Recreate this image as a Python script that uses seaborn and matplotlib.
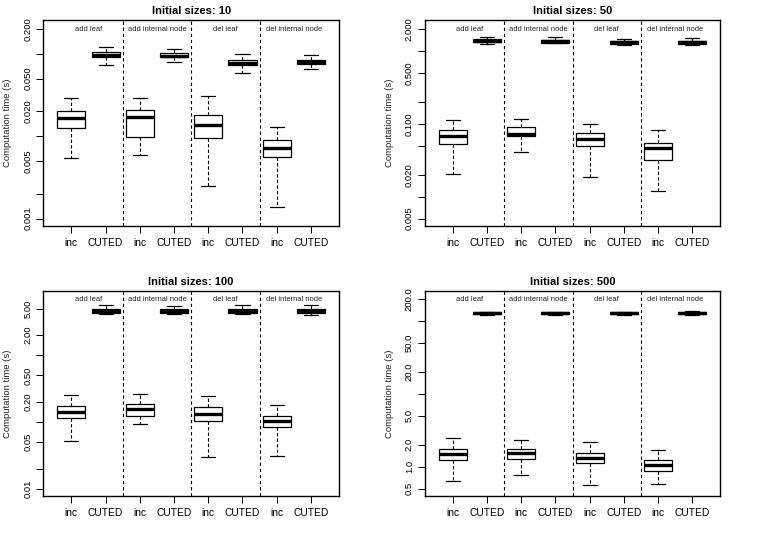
import numpy as np
import pandas as pd
import matplotlib
matplotlib.use("Agg")
import matplotlib.pyplot as plt
from matplotlib.ticker import FixedLocator, NullLocator
import seaborn as sns

# ---------------- data ----------------
sizes = [10, 50, 100, 500]
operations = ["add leaf", "add internal node", "del leaf", "del internal node"]
methods = ["inc", "CUTED"]

# five-number summaries (min, Q1, median, Q3, max) per box, order:
# add leaf inc, add leaf CUTED, add int inc, add int CUTED, del leaf inc, del leaf CUTED, del int inc, del int CUTED
times_10 = [
    [0.0054, 0.0126, 0.0166, 0.0201, 0.0291],
    [0.0731, 0.0906, 0.0968, 0.1042, 0.1200],
    [0.0060, 0.0097, 0.0173, 0.0206, 0.0291],
    [0.0796, 0.0906, 0.0950, 0.1014, 0.1133],
    [0.0025, 0.0095, 0.0136, 0.0183, 0.0305],
    [0.0580, 0.0725, 0.0781, 0.0834, 0.0986],
    [0.0014, 0.0056, 0.0071, 0.0091, 0.0129],
    [0.0648, 0.0745, 0.0796, 0.0834, 0.0959],
]
times_50 = [
    [0.0203, 0.0524, 0.0689, 0.0815, 0.1117],
    [1.234, 1.327, 1.383, 1.443, 1.538],
    [0.0406, 0.0681, 0.0733, 0.0896, 0.1178],
    [1.270, 1.300, 1.368, 1.428, 1.538],
    [0.0187, 0.0502, 0.0614, 0.0742, 0.0991],
    [1.195, 1.259, 1.327, 1.383, 1.459],
    [0.0121, 0.0316, 0.0471, 0.0541, 0.0815],
    [1.195, 1.259, 1.312, 1.368, 1.489],
]
times_100 = [
    [0.0525, 0.1161, 0.1429, 0.1738, 0.251],
    [4.21, 4.35, 4.66, 4.94, 5.61],
    [0.0922, 0.1244, 0.155, 0.184, 0.266],
    [4.21, 4.35, 4.66, 4.94, 5.42],
    [0.0302, 0.1035, 0.130, 0.166, 0.248],
    [4.11, 4.31, 4.56, 4.89, 5.61],
    [0.0313, 0.0832, 0.1035, 0.1244, 0.178],
    [4.02, 4.26, 4.56, 5.00, 5.74],
]
times_500 = [
    [0.631, 1.22, 1.51, 1.73, 2.45],
    [121.9, 124.5, 128.5, 131.0, 134.0],
    [0.778, 1.29, 1.53, 1.73, 2.35],
    [122.5, 125.5, 128.5, 131.0, 134.0],
    [0.562, 1.11, 1.30, 1.545, 2.16],
    [121.0, 124.5, 128.5, 131.0, 134.0],
    [0.574, 0.875, 1.07, 1.25, 1.70],
    [121.9, 125.9, 128.5, 132.7, 138.3],
]
all_times = [times_10, times_50, times_100, times_500]

ticks_10 = [0.2, 0.1, 0.05, 0.02, 0.01, 0.005, 0.002, 0.001]
labels_10 = ["0.200", "", "0.050", "0.020", "", "0.005", "", "0.001"]
ticks_50 = [2, 1, 0.5, 0.2, 0.1, 0.05, 0.02, 0.01, 0.005]
labels_50 = ["2.000", "", "0.500", "", "0.100", "", "0.020", "", "0.005"]
ticks_100 = [5, 2, 1, 0.5, 0.2, 0.1, 0.05, 0.02, 0.01]
labels_100 = ["5.00", "2.00", "", "0.50", "0.20", "", "0.05", "", "0.01"]
ticks_500 = [200, 100, 50, 20, 10, 5, 2, 1, 0.5]
labels_500 = ["200.0", "", "50.0", "20.0", "", "5.0", "2.0", "1.0", "0.5"]
all_ticks = [ticks_10, ticks_50, ticks_100, ticks_500]
all_labels = [labels_10, labels_50, labels_100, labels_500]

ylims = [(10**-3.089, 10**-0.590), (10**-2.402, 10**0.424),
         (10**-2.110, 10**0.969), (10**-0.402, 10**2.415)]

# ---------------- style ----------------
sns.set_style("ticks")
plt.rcParams["font.family"] = ["Liberation Sans", "DejaVu Sans"]
for key in ["text.color", "axes.labelcolor", "xtick.color", "ytick.color", "axes.edgecolor"]:
    plt.rcParams[key] = "black"

fig = plt.figure(figsize=(7.63, 5.40), dpi=100)
W, H = 763, 540
rects = [(43.3, 20, 339, 226), (425, 20, 720, 226),
         (43.3, 290.7, 339, 496), (425, 290.7, 720, 496)]

groups = [f"{op}|{m}" for op in operations for m in methods]

for k, size in enumerate(sizes):
    x0, y0, x1, y1 = rects[k]
    ax = fig.add_axes([x0 / W, 1 - y1 / H, (x1 - x0) / W, (y1 - y0) / H])
    rows = []
    for g, summ in zip(groups, all_times[k]):
        for v in summ:
            rows.append({"group": g, "time": v})
    df = pd.DataFrame(rows)
    sns.boxplot(data=df, x="group", y="time", order=groups, ax=ax,
                color="white", saturation=1, linecolor="black", linewidth=0.9,
                width=0.82, whis=(0, 100), log_scale=True, fliersize=0,
                medianprops={"linewidth": 2.4, "color": "black", "solid_capstyle": "butt"},
                whiskerprops={"linestyle": (0, (3, 2)), "linewidth": 0.8},
                capprops={"linewidth": 0.9},
                boxprops={"facecolor": "white", "edgecolor": "black"})
    ax.set_xlim(-0.82, 7.82)
    ax.set_ylim(*ylims[k])
    ax.yaxis.set_major_locator(FixedLocator(all_ticks[k]))
    ax.yaxis.set_minor_locator(NullLocator())
    ax.set_yticklabels(all_labels[k], rotation=90, va="center", fontsize=6.8)
    ax.set_xticks(range(len(groups)))
    ax.set_xticklabels([g.split("|")[1] for g in groups], fontsize=7.4)
    ax.tick_params(axis="both", length=5, width=0.7, color="black", labelcolor="black")
    ax.tick_params(axis="x", pad=4)
    ax.tick_params(axis="y", pad=3)
    ax.set_xlabel("")
    ax.set_ylabel("Computation time (s)", fontsize=6.8, labelpad=8, color="#222222")
    for s in ax.spines.values():
        s.set_visible(True)
        s.set_linewidth(1.0)
        s.set_color("black")
    for xv in [1.5, 3.5, 5.5]:
        ax.axvline(xv, color="black", linestyle=(0, (3, 2.5)), linewidth=0.8)
    for i, op in enumerate(operations):
        ax.text(2 * i + 0.5, 0.955, op, transform=ax.get_xaxis_transform(),
                ha="center", va="center", fontsize=5.4, color="#222222")
    ax.set_title(f"Initial sizes: {size}", fontsize=8, fontweight="bold", pad=4)

fig.savefig("out.png", dpi=100)
